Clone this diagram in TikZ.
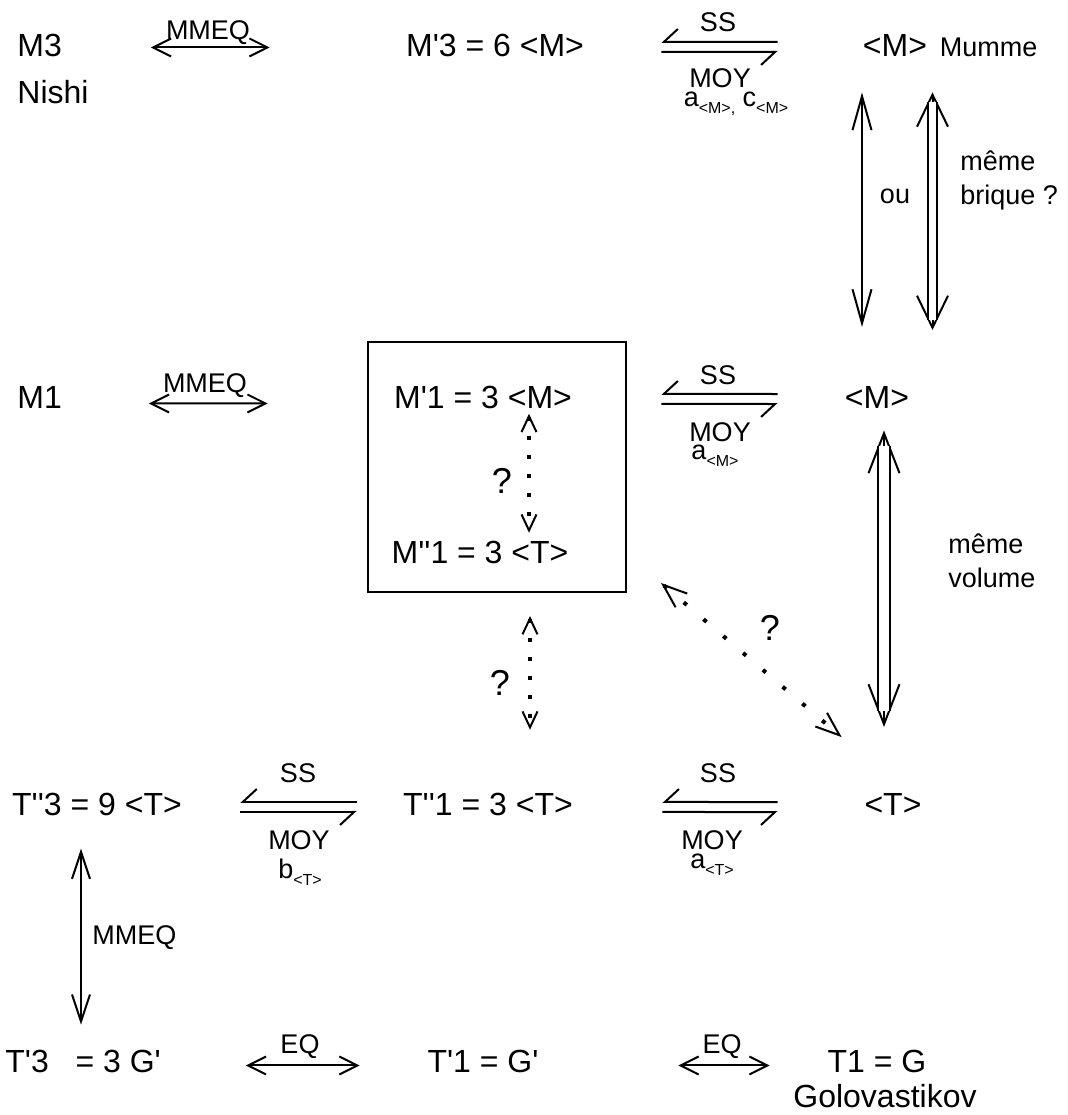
\documentclass[tikz,border=0pt]{standalone}
\usepackage{fontspec}
\usepackage{tikz}
\usetikzlibrary{arrows.meta,positioning,calc}
\newfontfamily\arial{Liberation Sans}
\newcommand\lowtxt[1]{\raisebox{-3.5pt}{\fontsize{8}{9}\selectfont #1}}
\tikzset{
  txt/.style={inner sep=0pt, font=\arial\fontsize{16}{19}\selectfont},
  lbl/.style={inner sep=0pt, font=\arial\fontsize{13.5}{17}\selectfont},
  qlbl/.style={inner sep=0pt, font=\arial\fontsize{18}{20}\selectfont},
  tips/.style 2 args={{Straight Barb[length=#1,width=#2]}-{Straight Barb[length=#1,width=#2]},
    line width=1pt},
  harpu/.style={{Straight Barb[right,length=7pt,width=13pt]}-, line width=1pt},
  harpd/.style={-{Straight Barb[right,length=7pt,width=13pt]}, line width=1pt},
  dotarr/.style 2 args={{Straight Barb[length=#1,width=#2,line width=1pt]}-{Straight Barb[length=#1,width=#2,line width=1pt]},
    line width=2pt, dash pattern=on 2pt off 7.5pt},
  dblline/.style={double, double distance=#1, line width=1pt}
}

\begin{document}
\begin{tikzpicture}[x=0.5pt, y=-0.5pt]
\useasboundingbox (0,0) rectangle (1068,1115);

%% M rows
\node[txt, anchor=base west] (m3) at (17,56) {M3};
\node[txt, below=23.5pt of m3.base west, anchor=base west] (nishi) {Nishi};
\node[txt, anchor=base] (mp3) at (495,56) {M'3 = 6 <M>};
\node[txt, anchor=base] (mr3) at (895,56) {<M>};
\node[lbl, right=6pt of mr3.base east, anchor=base west] (mumme) {Mumme};

\node[txt, anchor=base west] (m1) at (17,408) {M1};
\node[txt, anchor=base] (mp1) at (483,408) {M'1 = 3 <M>};
\node[txt, anchor=base] (mpp1) at (480,563) {M''1 = 3 <T>};
\node[draw, line width=1pt, minimum width=129pt, minimum height=125pt] (box) at (497,467) {};
\node[txt, anchor=base] (mr1) at (877,408) {<M>};

%% T rows
\node[txt, anchor=base] (tpp3) at (97,815) {T''3 = 9 <T>};
\node[txt, anchor=base] (tpp1) at (488,815) {T''1 = 3 <T>};
\node[txt, anchor=base] (tr) at (893,815) {<T>};

\node[txt, anchor=base west] (tp3) at (5,1072) {T'3~~ = 3 G'};
\node[txt, anchor=base] (tp1) at (483,1072) {T'1 = G'};
\node[txt, anchor=base] (t1) at (877,1072) {T1 = G};
\node[txt, below=17.5pt of t1.base, anchor=base, xshift=4pt] (golo) {Golovastikov};

%% Labels
\node[lbl, anchor=base] (mmeq3) at (208,39) {MMEQ};
\node[lbl, anchor=base] (ss3) at (718,31) {SS};
\node[lbl, anchor=base] (moy3) at (720,87) {MOY};
\node[lbl, anchor=base] (ac3) at (736,106) {a\lowtxt{<M>,} c\lowtxt{<M>}};
\node[lbl, anchor=base] (ou) at (895,203) {ou};
\node[lbl, align=left, anchor=north west] (brq) at (960,150) {même\\brique ?};
\node[lbl, anchor=base] (mmeq1) at (205,392) {MMEQ};
\node[lbl, anchor=base] (ss1) at (718,384) {SS};
\node[lbl, anchor=base] (moy1) at (720,441) {MOY};
\node[lbl, anchor=base] (am1) at (715,459) {a\lowtxt{<M>}};
\node[qlbl] (q1) at (502,481) {?};
\node[qlbl] (q2) at (500,683) {?};
\node[qlbl] (q3) at (770,628) {?};
\node[lbl, align=left, anchor=north west] (vol) at (948,533) {même\\volume};
\node[lbl, anchor=base] (sst1) at (298,782) {SS};
\node[lbl, anchor=base] (moyt1) at (299,849) {MOY};
\node[lbl, anchor=base] (bt1) at (300,878) {b\lowtxt{<T>}};
\node[lbl, anchor=base] (sst2) at (718,782) {SS};
\node[lbl, anchor=base] (moyt2) at (712,849) {MOY};
\node[lbl, anchor=base] (at2) at (712,868) {a\lowtxt{<T>}};
\node[lbl, anchor=base west] (mmeqv) at (92,944) {MMEQ};
\node[lbl, anchor=base] (eq1) at (300,1053) {EQ};
\node[lbl, anchor=base] (eq2) at (722,1053) {EQ};

%% Horizontal links
\draw[tips={9pt}{9pt}, shorten <=44.3pt, shorten >=68pt] ([yshift=-1.25pt]m3.east) -- ([yshift=-1.25pt]mp3.west);
\draw[harpu, shorten <=38.5pt, shorten >=42.5pt] ([yshift=1.5pt]mp3.east) -- ([yshift=1.5pt]mr3.west);
\draw[harpd, shorten <=38.5pt, shorten >=42.5pt] ([yshift=-3.5pt]mp3.east) -- ([yshift=-3.5pt]mr3.west);

\draw[tips={9pt}{9pt}, shorten <=43.3pt, shorten >=63pt] ([yshift=-3.25pt]m1.east) -- ([yshift=-3.25pt]mp1.west);
\draw[harpu, shorten <=44.5pt, shorten >=33.5pt] ([yshift=1.5pt]mp1.east) -- ([yshift=1.5pt]mr1.west);
\draw[harpd, shorten <=44.5pt, shorten >=33.5pt] ([yshift=-3.5pt]mp1.east) -- ([yshift=-3.5pt]mr1.west);

\draw[harpu, shorten <=29pt, shorten >=23.1pt] ([yshift=1pt]tpp3.east) -- ([yshift=1pt]tpp1.west);
\draw[harpd, shorten <=29pt, shorten >=23.1pt] ([yshift=-4pt]tpp3.east) -- ([yshift=-4pt]tpp1.west);
\draw[harpu, shorten <=44.6pt, shorten >=43.3pt] ([yshift=1pt]tpp1.east) -- ([yshift=1pt]tr.west);
\draw[harpd, shorten <=44.6pt, shorten >=43.3pt] ([yshift=-4pt]tpp1.east) -- ([yshift=-4pt]tr.west);

\draw[tips={9pt}{9pt}, shorten <=42.3pt, shorten >=33.8pt] ([yshift=-2.25pt]tp3.east) -- ([yshift=-2.25pt]tp1.west);
\draw[tips={9pt}{9pt}, shorten <=69.8pt, shorten >=28.8pt] ([yshift=-2.25pt]tp1.east) -- ([yshift=-2.25pt]t1.west);

%% Vertical links
\draw[tips={17pt}{9.5pt}, shorten <=18pt, shorten >=29.3pt] ([xshift=-16.5pt]mr3.south) -- ([xshift=-16.5pt]mr3.south |- mr1.north);
\draw[tips={16pt}{15.5pt}, shorten <=18pt, shorten >=27.8pt] ([xshift=18.75pt]mr3.south) -- ([xshift=18.75pt]mr3.south |- mr1.north);
\draw[dblline=3.8pt, shorten <=23pt, shorten >=32.8pt] ([xshift=18.75pt]mr3.south) -- ([xshift=18.75pt]mr3.south |- mr1.north);
\draw[tips={20pt}{15.5pt}, shorten <=11pt, shorten >=32.8pt] ([xshift=3.5pt]mr1.south) -- ([xshift=3.5pt]mr1.south |- tr.north);
\draw[dblline=5.35pt, shorten <=19pt, shorten >=40.8pt] ([xshift=3.5pt]mr1.south) -- ([xshift=3.5pt]mr1.south |- tr.north);
\draw[tips={13.5pt}{9pt}, shorten <=16.5pt, shorten >=12.3pt] ([xshift=-8pt]tpp3.south) -- ([xshift=-8pt]tpp3.south |- tp3.north);

%% Open questions
\draw[dotarr={8pt}{7.5pt}, shorten <=2.5pt, shorten >=3.75pt] ([xshift=23pt]mp1.south) -- ([xshift=23pt]mp1.south |- mpp1.north);
\draw[dotarr={8pt}{7.5pt}, shorten <=11.5pt, shorten >=31.25pt] ([xshift=16.5pt]box.south) -- ([xshift=16.5pt]box.south |- tpp1.north);
\draw[dotarr={12pt}{9pt}, dash pattern=on 2pt off 11pt] ([shift={(34,-10)}]box.south east) -- ([shift={(-22.5,-55.5)}]tr.north west);

\end{tikzpicture}
\end{document}
